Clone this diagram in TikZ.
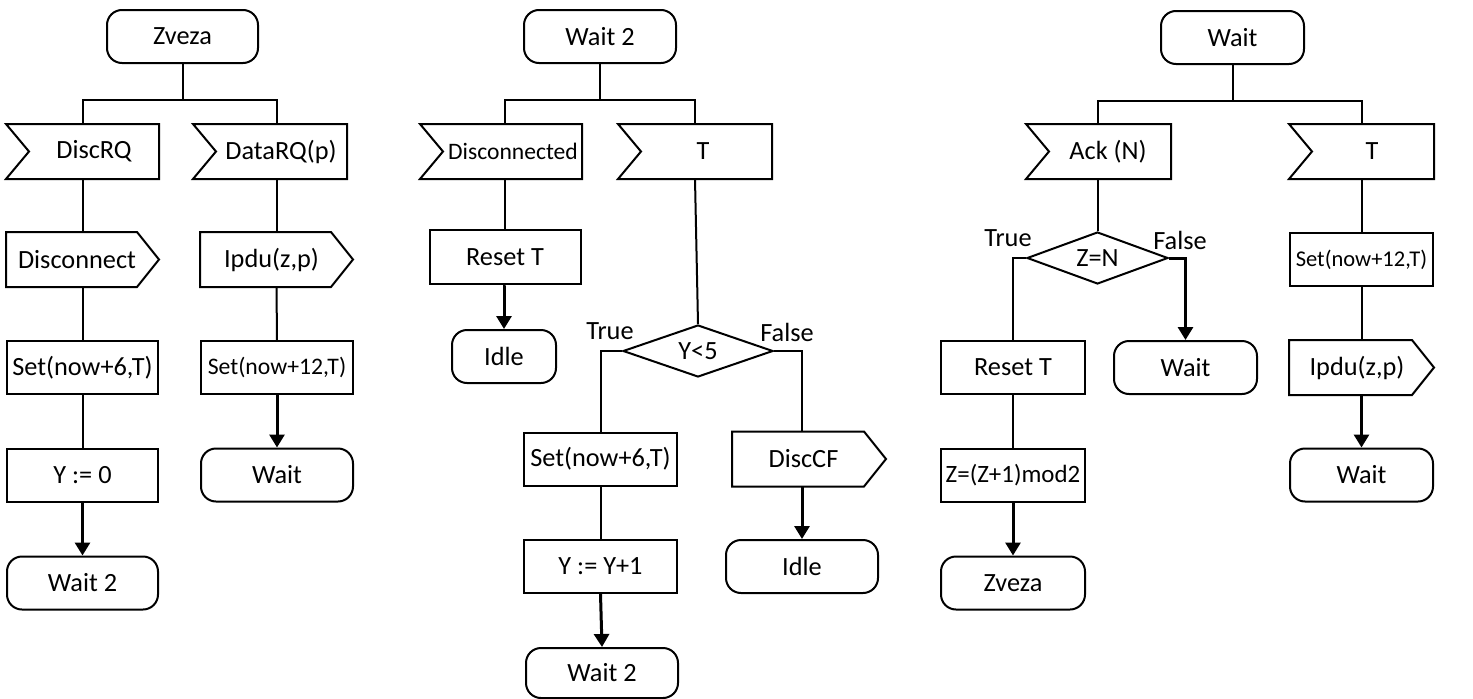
\documentclass[tikz,border=0pt]{standalone}
\usepackage{fontspec}
\setmainfont{Carlito}
\usepackage{tikz}
\usetikzlibrary{shapes.geometric,arrows.meta}

\tikzset{
  blk/.style={minimum width=151pt, minimum height=53pt, inner sep=0pt, font=\fontsize{26.3}{30}\selectfont},
  task/.style={blk, draw},
  state/.style={blk, draw, rounded corners=15pt},
  inbox/.style={blk, execute at begin node={\hspace*{#1}},
    append after command={\pgfextra{\draw (\tikzlastnode.north west) -- (\tikzlastnode.north east) -- (\tikzlastnode.south east) -- (\tikzlastnode.south west) -- ([xshift=23pt]\tikzlastnode.west) -- cycle;}}},
  inbox/.default=20pt,
  outbox/.style={blk, execute at end node={\hspace*{#1}},
    append after command={\pgfextra{\draw (\tikzlastnode.north west) -- ([xshift=-22pt]\tikzlastnode.north east) -- (\tikzlastnode.east) -- ([xshift=-22pt]\tikzlastnode.south east) -- (\tikzlastnode.south west) -- cycle;}}},
  outbox/.default=10pt,
  decide/.style={diamond, draw, aspect=2.8, inner sep=0pt, minimum height=52pt, font=\fontsize{26.3}{30}\selectfont},
  lbl/.style={inner sep=0pt, font=\fontsize{26.3}{30}\selectfont},
  arr/.style={line width=3pt, -{Triangle[width=15pt,length=13pt]}},
}

\begin{document}
\begin{tikzpicture}[x=1pt,y=1pt,yscale=-1,line width=2pt]
\useasboundingbox (0,0) rectangle (1473,699);

%Column: Zveza
\node[state] (zv) at (182.5,36.5) {Zveza};
\node[inbox=23pt] (dq) at (82.5,151.5) {DiscRQ};
\node[inbox=22pt, minimum width=152pt] (dr) at (270,151.5) {DataRQ(p)};
\node[outbox=11pt] (dc) at (82.5,259.5) {Disconnect};
\node[outbox] (ip) at (276.5,259.5) {Ipdu(z,p)};
\node[task] (st1) at (82.5,367.5) {Set(now+6,T)};
\node[task, minimum width=152pt, font=\fontsize{23.7}{28}\selectfont] (st2) at (277,367.5) {Set(now+12,T)};
\node[task] (y0) at (82.5,475) {Y := 0};
\node[state, minimum width=152pt] (w1) at (277,475) {Wait};
\node[state] (w2) at (82.5,583) {Wait 2};

\coordinate (b1) at (182.5,100);
\draw (zv.south) -- (b1);
\draw (dq.north) -- (dq.north |- b1) -- (ip.north |- b1) -- (ip.north |- dr.north);
\draw (dq) -- (dc);
\draw (dc) -- (st1);
\draw (st1) -- (y0);
\draw[arr] (y0) -- (w2);
\draw (ip.north |- dr.south) -- (ip.north);
\draw (ip) -- (st2);
\draw[arr] (st2) -- (w1);

%Column: Wait 2
\node[state, minimum width=152pt] (wt2) at (600,36.5) {Wait 2};
\node[inbox=24pt, minimum width=160pt, font=\fontsize{23.6}{28}\selectfont] (dd) at (501,151.5) {Disconnected};
\node[inbox=16pt, minimum width=152pt] (tt) at (695,151.5) {T};
\node[task, minimum height=54pt] (rt) at (505,257) {Reset T};
\node[state, minimum width=104pt] (id1) at (504,356.5) {Idle};
\node[decide, minimum width=150pt] (dec1) at (698,351) {Y<5};
\node[lbl] (tr1) at (610,331) {True};
\node[lbl] (fa1) at (787,332) {False};
\node[task, minimum width=153pt] (st3) at (600.5,459) {Set(now+6,T)};
\node[outbox=11pt, minimum width=152pt] (dc2) at (809,459) {DiscCF};
\node[task, minimum width=153pt] (yy) at (600.5,566.5) {Y := Y+1};
\node[state, minimum width=152pt] (id2) at (802,566.5) {Idle};
\node[state, minimum width=152pt, minimum height=50pt] (w3) at (602,673) {Wait 2};

\coordinate (b2) at (600,100);
\draw (wt2.south) -- (b2);
\draw (rt.north |- dd.north) -- (rt.north |- b2) -- (tt.north |- b2) -- (tt.north);
\draw (rt.north |- dd.south) -- (rt.north);
\draw[arr] (rt.south) -- (rt.south -| id1.north) -- (id1.north);
\draw (tt.south) -- (dec1.north);
\draw (dec1.west) -| (st3.north);
\draw (dec1.east) -| (id2.north |- dc2.north);
\draw (st3) -- (yy);
\draw[arr] (yy.south) -- (w3.north);
\draw[arr] (id2.north |- dc2.south) -- (id2.north);

%Column: Wait
\node[state, minimum width=143pt] (wt) at (1232.5,37.5) {Wait};
\node[inbox=19pt, minimum width=143pt] (ak) at (1098.5,151.5) {Ack (N)};
\node[inbox=21pt, minimum width=143pt] (t2) at (1361.5,151.5) {T};
\node[decide, minimum width=141pt] (dec2) at (1097.5,258) {Z=N};
\node[lbl] (tr2) at (1008,238) {True};
\node[lbl] (fa2) at (1180,240) {False};
\node[task, minimum width=144pt] (rt2) at (1013,367.5) {Reset T};
\node[state, minimum width=143pt] (w4) at (1185.5,367.5) {Wait};
\node[task, minimum width=144pt, font=\fontsize{24.9}{28}\selectfont] (zm) at (1013,475) {Z=(Z+1)mod2};
\node[state, minimum width=144pt] (zv2) at (1013,583) {Zveza};
\node[task, minimum width=143pt, font=\fontsize{22.5}{27}\selectfont] (st4) at (1361.5,259.5) {Set(now+12,T)};
\node[outbox=9pt, minimum width=143pt] (ip2) at (1361.5,367.5) {Ipdu(z,p)};
\node[state, minimum width=143pt] (w5) at (1361.5,475) {Wait};

\coordinate (b3) at (1232.5,101);
\draw (wt.south) -- (b3);
\draw (dec2.north |- ak.north) -- (dec2.north |- b3) -- (t2.north |- b3) -- (t2.north);
\draw (dec2.north |- ak.south) -- (dec2.north);
\draw (dec2.west) -| (rt2.north);
\draw[arr] (dec2.east) -| (w4.north);
\draw (rt2) -- (zm);
\draw[arr] (zm) -- (zv2);
\draw (t2) -- (st4);
\draw (st4) -- (ip2);
\draw[arr] (ip2) -- (w5);

\end{tikzpicture}
\end{document}
